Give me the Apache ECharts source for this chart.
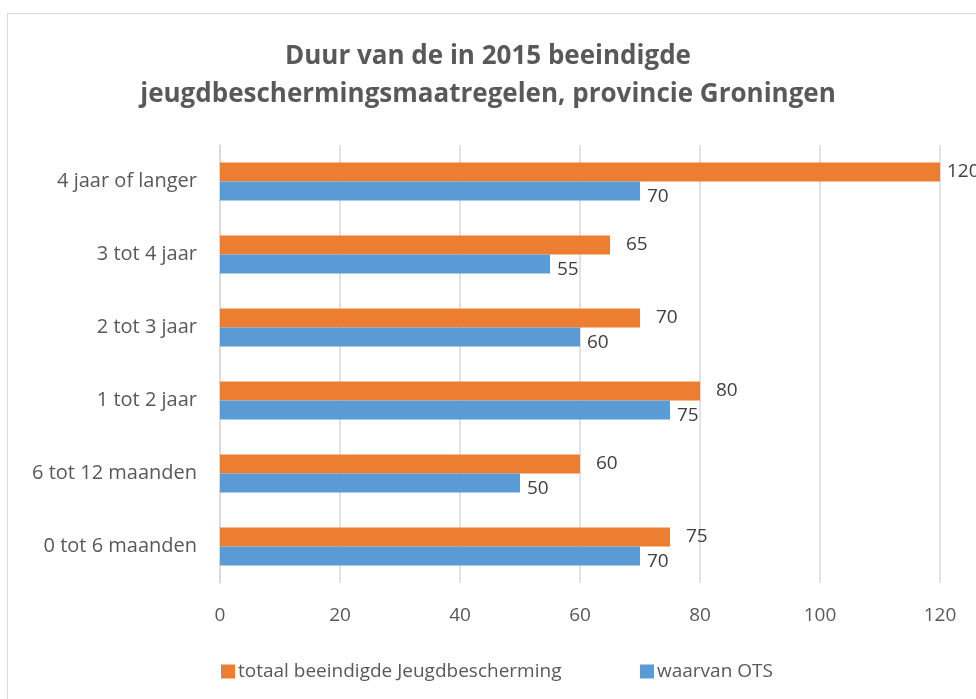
<!DOCTYPE html>
<html>
<head>
<meta charset="utf-8">
<script src="https://cdn.jsdelivr.net/npm/echarts@6/dist/echarts.min.js"></script>
<style>
  html, body { margin: 0; padding: 0; background: #fff; }
  #chart { width: 976px; height: 699px; }
  .frame {
    position: absolute; left: 7px; top: 13px; width: 980px; height: 700px;
    border: 1px solid #d9d9d9; pointer-events: none;
  }
</style>
</head>
<body>
<div id="chart"></div>
<div class="frame"></div>
<script>
// categorieen, van onder naar boven
const categories = ['0 tot 6 maanden', '6 tot 12 maanden', '1 tot 2 jaar', '2 tot 3 jaar', '3 tot 4 jaar', '4 jaar of langer'];
const totaal = [75, 60, 80, 70, 65, 120];
const ots = [70, 50, 75, 60, 55, 70];
const xTicks = [0, 20, 40, 60, 80, 100, 120];

const font = 'Open Sans, sans-serif';
const xMax = xTicks[xTicks.length - 1];

const chart = echarts.init(document.getElementById('chart'));
const option = {
  animation: false,
  title: {
    text: 'Duur van de in 2015 beeindigde\njeugdbeschermingsmaatregelen, provincie Groningen',
    left: 'center',
    top: 33,
    textStyle: {
      fontFamily: font,
      fontSize: 26,
      fontWeight: 'bold',
      color: '#595959',
      lineHeight: 38
    }
  },
  legend: [
    {
      data: ['totaal beeindigde Jeugdbescherming'],
      left: 216,
      top: 657,
      itemWidth: 14,
      itemHeight: 14,
      itemGap: 4,
      icon: 'rect',
      textStyle: { fontFamily: font, fontSize: 19, color: '#595959', padding: [0, 0, 0, -2] }
    },
    {
      data: ['waarvan OTS'],
      left: 635,
      top: 657,
      itemWidth: 14,
      itemHeight: 14,
      icon: 'rect',
      textStyle: { fontFamily: font, fontSize: 19, color: '#595959', padding: [0, 0, 0, -2] }
    }
  ],
  grid: { left: 220, top: 145, width: 720, height: 438 },
  xAxis: {
    type: 'value',
    min: 0,
    max: xMax,
    interval: 20,
    axisLine: { show: false },
    axisTick: { show: false },
    splitLine: { lineStyle: { color: '#d9d9d9', width: 1.5 } },
    axisLabel: { margin: 23, fontFamily: font, fontSize: 19, color: '#595959' }
  },
  yAxis: {
    type: 'category',
    data: categories,
    axisLine: { lineStyle: { color: '#d9d9d9', width: 1.5 } },
    axisTick: { show: false },
    axisLabel: { margin: 23, fontFamily: font, fontSize: 20, color: '#595959' }
  },
  series: [
    {
      name: 'totaal beeindigde Jeugdbescherming',
      type: 'bar',
      data: totaal.map(v => v >= xMax ? { value: v, label: { distance: 7 } } : v),
      barWidth: 19,
      barGap: '0%',
      itemStyle: { color: '#ed7d31' },
      label: {
        show: true,
        position: 'right',
        distance: 16,
        fontFamily: font,
        fontSize: 19,
        color: '#404040'
      }
    },
    {
      name: 'waarvan OTS',
      type: 'bar',
      data: ots,
      barWidth: 19,
      barGap: '0%',
      itemStyle: { color: '#5b9bd5' },
      label: {
        show: true,
        position: 'right',
        distance: 7,
        offset: [0, 6],
        fontFamily: font,
        fontSize: 19,
        color: '#404040'
      }
    }
  ]
};
chart.setOption(option);
</script>
</body>
</html>
